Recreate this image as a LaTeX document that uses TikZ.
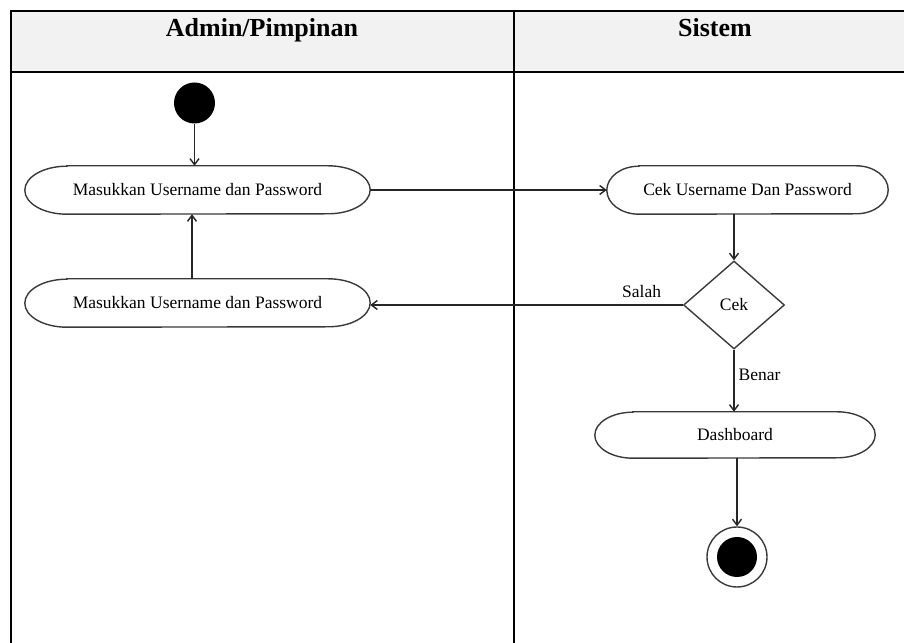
\documentclass[tikz,border=0pt]{standalone}
\usepackage{fontspec}
\setmainfont{Liberation Serif}
\usetikzlibrary{shapes.geometric,arrows.meta,calc}
\definecolor{hdr}{HTML}{F2F2F2}
\definecolor{outl}{HTML}{3A3A3A}
\tikzset{
 lane/.style={line width=2pt,black},
 act/.style={draw=none,inner sep=0pt,font=\fontsize{17.5}{20}\selectfont},
 capsule/.style={draw=outl,line width=1.4pt},
 flow/.style={draw=black!85,line width=1.4pt,-{Straight Barb[length=6pt,width=9pt]}},
 lbl/.style={inner sep=0pt,font=\fontsize{17.5}{20}\selectfont},
 hd/.style={font=\bfseries\fontsize{26}{30}\selectfont,anchor=base},
}
\newcommand\capsuleoutline[3]{%
 \draw[capsule] ([xshift=#2pt]#1.north west) -- ([xshift=-#2pt]#1.north east)
   arc[start angle=90,end angle=-90,x radius=#2pt,y radius=#3pt]
   -- ([xshift=#2pt]#1.south west)
   arc[start angle=270,end angle=90,x radius=#2pt,y radius=#3pt] -- cycle;}
\begin{document}
\begin{tikzpicture}[x=1pt,y=1pt]
\useasboundingbox (0,0) rectangle (904,642);
% swimlane table
\fill[hdr] (11,631) rectangle (910,569.5);
\draw[lane] (910,631) -- (11,631) -- (11,-5);
\draw[lane] (11,569.5) -- (910,569.5);
\draw[lane] (514,631) -- (514,-5);
\node[hd] (h1) at (262,605) {Admin/Pimpinan};
\node[hd] (h2) at (715,605) {Sistem};
% nodes
\node[circle,fill=black,minimum size=41pt,inner sep=0pt] (start) at (194.5,539) {};
\node[act,minimum width=345pt,minimum height=48pt] (m1) at (197.5,452) {Masukkan Username dan Password};
\node[act,minimum width=345pt,minimum height=48pt] (m2) at (197.5,339) {Masukkan Username dan Password};
\node[act,minimum width=281pt,minimum height=48pt] (c1) at (747.5,452) {Cek Username Dan Password};
\node[diamond,draw=outl,line width=1.4pt,minimum width=101pt,minimum height=88pt,inner sep=0pt,font=\fontsize{17.5}{20}\selectfont] (d) at (734,337) {Cek};
\node[act,minimum width=280pt,minimum height=46pt] (dash) at (735,207) {Dashboard};
\node[circle,draw=outl,line width=1.4pt,minimum size=60pt,inner sep=0pt] (end) at (737,85) {};
\node[circle,fill=black,minimum size=40pt,inner sep=0pt] (endin) at (end.center) {};
\capsuleoutline{m1}{42}{24}
\capsuleoutline{m2}{42}{24}
\capsuleoutline{c1}{32}{24}
\capsuleoutline{dash}{38}{23}
% connectors
\draw[flow] (start.south) -- (start.south |- m1.north);
\draw[flow] (m1.east) -- (c1.west);
\draw[flow] (d.north |- c1.south) -- (d.north);
\draw[flow] (d.west) -- node[lbl,anchor=base east,pos=0,xshift=-21pt,yshift=7pt] {Salah} (d.west -| m2.east);
\draw[flow] (d.south) -- node[lbl,anchor=west,pos=0.4,xshift=4pt] {Benar} (d.south |- dash.north);
\draw[flow] (end.north |- dash.south) -- (end.north);
\draw[flow] ([xshift=-5.5pt]m2.north) -- ([xshift=-5.5pt]m1.south);
\end{tikzpicture}
\end{document}
